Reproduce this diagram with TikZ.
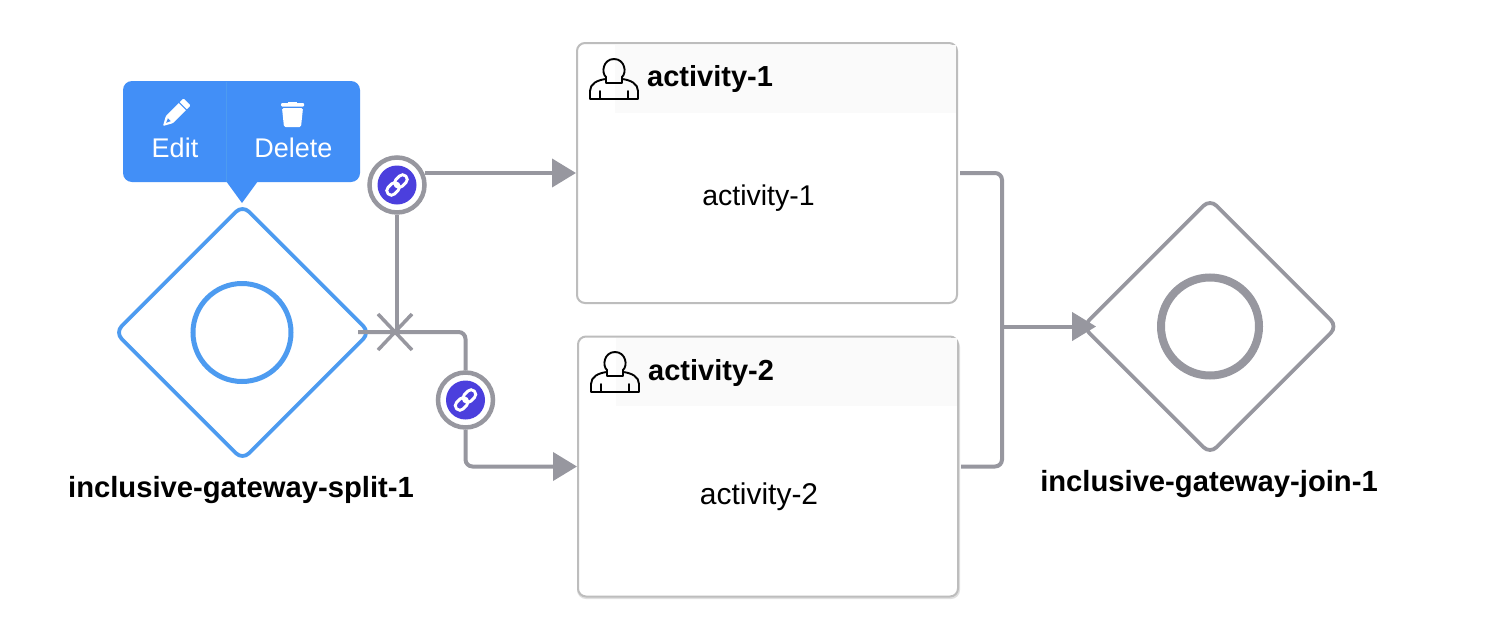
\documentclass[tikz,border=0pt]{standalone}
\usepackage{fontspec}
\setmainfont{Liberation Sans}
\usetikzlibrary{shapes.geometric,arrows.meta}
\definecolor{flow}{HTML}{97979F}
\definecolor{accent}{HTML}{4D9BF0}
\definecolor{popblue}{HTML}{428FF7}
\definecolor{linkblue}{HTML}{4B3FDD}
\definecolor{boxline}{HTML}{BDBDBD}
\definecolor{headfill}{HTML}{FAFAFA}
\tikzset{
  gateway/.style={diamond,aspect=1,draw=#1,line width=3.8pt,rounded corners=9pt,minimum width=256pt,minimum height=256pt,inner sep=0pt},
  ringnode/.style={circle,inner sep=0pt,minimum size=98pt},
  activitybox/.style={draw=boxline,line width=2pt,rounded corners=8pt,minimum width=380pt,minimum height=260pt,inner sep=0pt,fill=white},
  headtext/.style={font=\fontsize{29}{32}\selectfont\bfseries,anchor=west,inner sep=0pt,text=black},
  bodytext/.style={font=\fontsize{28.5}{32}\selectfont,inner sep=0pt,text=black},
  gatelabel/.style={font=\fontsize{29.2}{32}\selectfont\bfseries,inner sep=0pt,text=black},
  flowline/.style={draw=flow,line width=4pt,rounded corners=7pt},
  flowarrow/.style={flowline,-{Triangle[length=24pt,width=28pt]}},
  linkring/.style={circle,draw=flow,line width=4.5pt,fill=white,minimum size=55pt,inner sep=0pt},
  poptext/.style={font=\fontsize{27}{30}\selectfont,text=white,inner sep=0pt},
  person/.style={draw=black,line width=1.9pt,line join=round,line cap=round},
}
\newcommand{\personicon}[2]{%
  \begin{scope}[shift={(#1,#2)}]
    \draw[person] (-24,0) -- (-24,-8) .. controls (-24,-15) and (-17,-19) .. (-8,-20)
      -- (-8,-16) -- (8,-16) -- (8,-20)
      .. controls (17,-19) and (24,-15) .. (24,-8) -- (24,0) -- cycle;
    \draw[person] (-8,-20) -- (-8,-22) .. controls (-13,-26) and (-11,-40) .. (0,-40)
      .. controls (11,-40) and (13,-26) .. (8,-22) -- (8,-20);
    \draw[person] (-14,0) -- (-14,-8);
    \draw[person] (14,0) -- (14,-8);
  \end{scope}}
\newcommand{\chainicon}[2]{%
  \begin{scope}[shift={(#1,#2)},rotate=45]
    \draw[white,line width=2.9pt,rounded corners=4.4pt] (-12.5,-4.6) rectangle (1.5,4.6);
    \draw[white,line width=2.9pt,rounded corners=4.4pt] (-1.5,-4.6) rectangle (12.5,4.6);
  \end{scope}}
\begin{document}
\begin{tikzpicture}[x=1pt,y=-1pt]
\useasboundingbox (0,0) rectangle (1486,640);
\fill[white] (0,0) rectangle (1486,640);

% activity boxes
\fill[black!12,rounded corners=9pt] (577,338) rectangle (960,599);
\node[activitybox] (a1) at (767,173) {};
\node[activitybox] (a2) at (768,466.5) {};
\fill[headfill] (615,45) rectangle (956,113);
\fill[headfill] (616,338) rectangle (957,406);
\personicon{614}{99}
\personicon{615}{392}
\node[headtext] (h1) at (647,78.5) {activity-1};
\node[headtext] (h2) at (648,372.5) {activity-2};
\node[bodytext] (b1) at (758.5,198) {activity-1};
\node[bodytext,font=\fontsize{30}{32}\selectfont] (b2) at (759,497) {activity-2};

% gateways
\node[gateway=accent] (split) at (242.5,332.5) {};
\node[ringnode,draw=accent,line width=5pt] (splitring) at (242,332.5) {};
\node[gateway=flow] (join) at (1210,326.5) {};
\node[ringnode,draw=flow,line width=8pt] (joinring) at (1210,326.5) {};
\node[gatelabel] (splitlabel) at (241,490.5) {inclusive-gateway-split-1};
\node[gatelabel] (joinlabel) at (1209,484.5) {inclusive-gateway-join-1};

% link badges
\node[linkring] (link1) at (397,185) {};
\node[linkring] (link2) at (465.5,400) {};
\fill[linkblue] (link1) circle (19.5);
\fill[linkblue] (link2) circle (19.5);
\chainicon{397}{185}
\chainicon{465.5}{400}

% connectors
\coordinate (cross) at (397,332);
\draw[flowline] (link1.south) -- (cross);
\coordinate (l1out) at (425,173);
\draw[flowarrow] (l1out) -- (a1.west);
\coordinate (splitout) at (358,332);
\draw[flowline] (splitout) -- (465.5,332) -- (link2.north);
\draw[flowarrow] (link2.south) -- (465.5,466.5) -- (a2.west);
\draw[flow,line width=3.5pt] (378,314) -- (412,350) (412,314) -- (378,350);
\draw[flowline] ([xshift=2pt]a1.east) -- (1002,173) -- (1002,466.5) -- ([xshift=2pt]a2.east);
\coordinate (merge) at (1002,326.5);
\draw[flowarrow] (merge) -- ([xshift=16pt]join.west);

% popup
\fill[popblue,rounded corners=9pt] (123,81) rectangle (360,182);
\fill[popblue] (226,181) -- (258,181) -- (242,203) -- cycle;
\draw[accent,line width=1pt] (226,82) -- (226,182);
\node[poptext] (edit) at (175,148) {Edit};
\node[poptext] (delete) at (293.5,148) {Delete};
% pencil
\begin{scope}[shift={(175,114)},rotate=-45]
  \fill[white,rounded corners=1pt] (-5,-17) -- (5,-17) -- (5,8) -- (0,17) -- (-5,8) -- cycle;
  \draw[popblue,line width=1pt] (-5.5,-11) -- (5.5,-11);
  \fill[popblue] (-2,8) -- (2,8) -- (0,12.5) -- cycle;
\end{scope}
% trash
\fill[white,rounded corners=1pt] (281,103) rectangle (304,106.5);
\fill[white] (288,101.5) rectangle (297,104);
\fill[white,rounded corners=1.5pt] (282,108) -- (303,108) -- (301,127) -- (284,127) -- cycle;
\end{tikzpicture}
\end{document}
